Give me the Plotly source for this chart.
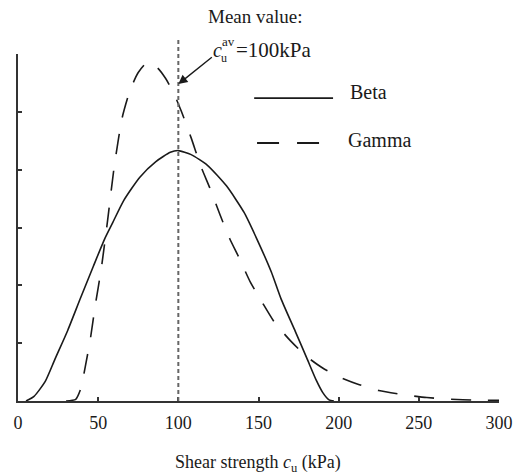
import plotly.graph_objects as go

# ---- data ----
beta_x = [5, 10, 17, 23, 31, 39, 47, 54, 59, 66, 76, 86, 95, 100, 108, 118, 130,
          141, 149, 158, 164, 173, 180, 186, 190, 194, 197]
beta_y = [0, 0.08, 0.34, 0.72, 1.22, 1.78, 2.33, 2.8, 3.08, 3.47, 3.87, 4.14, 4.3,
          4.33, 4.26, 4.08, 3.72, 3.26, 2.8, 2.23, 1.77, 1.2, 0.75, 0.36, 0.15, 0.02, 0]

gamma_x = [30, 36, 39, 42, 45, 48, 52, 56, 60, 65, 70, 75, 81, 87, 92, 97, 102, 108,
           114, 120, 126, 132, 138, 145, 152, 160, 170, 180, 190, 200, 212, 225, 240,
           255, 270, 285, 300]
gamma_y = [0, 0.03, 0.2, 0.6, 1.05, 1.62, 2.3, 3.15, 4.05, 4.9, 5.38, 5.68, 5.86,
           5.76, 5.58, 5.33, 5.0, 4.55, 4.06, 3.66, 3.22, 2.81, 2.47, 2.05, 1.72, 1.36,
           1.04, 0.77, 0.57, 0.42, 0.29, 0.18, 0.11, 0.06, 0.03, 0.015, 0.01]

x_ticks = [0, 50, 100, 150, 200, 250, 300]
y_ticks = [0, 1, 2, 3, 4, 5, 6]
mean_value = 100
series_names = ["Beta", "Gamma"]

FONT = "Liberation Serif"
INK = "#1a1a1a"

fig = go.Figure()
fig.add_trace(go.Scatter(x=beta_x, y=beta_y, mode="lines", name=series_names[0],
                         line=dict(color=INK, width=1.6, shape="spline", smoothing=0.6),
                         showlegend=False))
fig.add_trace(go.Scatter(x=gamma_x, y=gamma_y, mode="lines", name=series_names[1],
                         line=dict(color=INK, width=1.6, dash="20px,17px",
                                   shape="spline", smoothing=0.6),
                         showlegend=False))

# mean vertical line (extends above plot area)
fig.add_shape(type="line", xref="x", yref="paper", x0=mean_value, x1=mean_value,
              y0=0, y1=1.046, line=dict(color="#666", width=2, dash="4px,3px"))

# legend samples
fig.add_shape(type="line", xref="paper", yref="paper", x0=0.491, x1=0.655,
              y0=0.873, y1=0.873, line=dict(color=INK, width=1.8))
fig.add_shape(type="line", xref="paper", yref="paper", x0=0.497, x1=0.663,
              y0=0.7435, y1=0.7435, line=dict(color=INK, width=1.8, dash="22px,18px"))

ann = []
ann.append(dict(text=series_names[0], x=0.686, y=0.890, xref="paper", yref="paper",
                xanchor="left", yanchor="middle", showarrow=False,
                font=dict(family=FONT, size=20, color=INK)))
ann.append(dict(text=series_names[1], x=0.682, y=0.752, xref="paper", yref="paper",
                xanchor="left", yanchor="middle", showarrow=False,
                font=dict(family=FONT, size=20, color=INK)))
ann.append(dict(text="Mean value:", x=0.493, y=1.107, xref="paper", yref="paper",
                xanchor="center", yanchor="middle", showarrow=False,
                font=dict(family=FONT, size=19, color=INK)))
ann.append(dict(text="<i>c</i>", x=(213 - 18) / 487, y=1.0115, xref="paper", yref="paper",
                xanchor="left", yanchor="middle", showarrow=False,
                font=dict(family=FONT, size=20, color=INK)))
ann.append(dict(text="av", x=(223 - 18) / 487, y=1.036, xref="paper", yref="paper",
                xanchor="left", yanchor="middle", showarrow=False,
                font=dict(family=FONT, size=13, color=INK)))
ann.append(dict(text="u", x=(222 - 18) / 487, y=0.988, xref="paper", yref="paper",
                xanchor="left", yanchor="middle", showarrow=False,
                font=dict(family=FONT, size=12, color=INK)))
ann.append(dict(text="=100kPa", x=(318 - 18) / 487, y=1.0115, xref="paper", yref="paper",
                xanchor="right", yanchor="middle", showarrow=False,
                font=dict(family=FONT, size=21, color=INK)))
# arrow pointing to the mean line
ann.append(dict(text="", x=mean_value, y=5.48, xref="x", yref="y",
                ax=35, ay=-28, showarrow=True, arrowhead=2, arrowsize=1.3,
                arrowwidth=1.4, arrowcolor=INK, standoff=0))
# x axis title
ann.append(dict(text="Shear strength <i>c</i><sub>u</sub> (kPa)", x=0.499, y=-0.179,
                xref="paper", yref="paper", xanchor="center", yanchor="middle",
                showarrow=False, font=dict(family=FONT, size=18, color=INK)))

fig.update_layout(
    width=525, height=474,
    margin=dict(l=18, r=20, t=54, b=73),
    paper_bgcolor="white", plot_bgcolor="white",
    showlegend=False,
    annotations=ann,
    xaxis=dict(range=[0, 300], tickvals=x_ticks, ticks="inside", ticklen=4,
               tickwidth=1.5, tickcolor="#333", showline=True, linecolor="#333",
               linewidth=2, showgrid=False, zeroline=False, ticklabelstandoff=4,
               tickfont=dict(family=FONT, size=18, color=INK)),
    yaxis=dict(range=[0, 6], tickvals=y_ticks, ticks="inside", ticklen=4,
               tickwidth=1.5, tickcolor="#333", showline=True, linecolor="#333",
               linewidth=2, showgrid=False, zeroline=False, showticklabels=False),
)

fig.write_html("out.html")
